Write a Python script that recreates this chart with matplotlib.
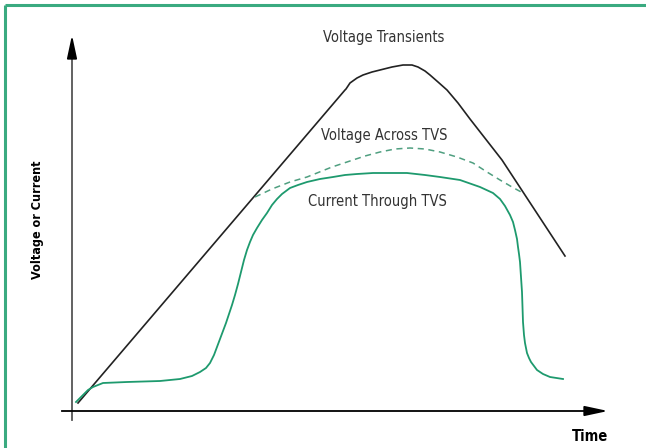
import matplotlib
matplotlib.use("Agg")
import matplotlib.pyplot as plt

# Data in chart units: time measured from the y-axis, value measured from the x-axis
vt_time = [6, 273, 274, 278, 285, 291, 300, 308, 320, 331, 340, 346, 353, 358, 366, 375, 386, 398, 430, 493]
vt_val = [8, 321, 322, 328, 333, 336, 339, 341, 344, 346, 346, 344, 340, 336, 329, 321, 308, 292, 251, 155]

va_time = [183, 200, 218, 235, 245, 260, 275, 293, 308, 323, 338, 353, 368, 385, 401, 415, 428, 440, 451]
va_val = [214, 222, 229, 234, 238, 244, 249, 255, 259, 262, 263, 262, 259, 254, 248, 239, 231, 224, 218]

cur_time = [4, 10, 16, 21, 31, 55, 88, 108, 120, 128, 134, 138, 142, 145, 148, 151, 154, 157,
            160, 163, 166, 169, 172, 175, 178, 181, 185, 190, 195, 200, 205, 210, 218, 226,
            235, 248, 261, 273, 285, 301, 318, 335, 353, 368, 388, 408, 421, 428, 433, 438,
            441, 443, 445, 446, 447, 448, 449, 450, 450.5, 451, 452, 453, 455, 457, 459, 462,
            465, 471, 478, 491]
cur_val = [9, 15, 21, 24, 28, 29, 30, 32, 35, 39, 43, 48, 56, 64, 72, 80, 88, 97,
           106, 116, 127, 139, 151, 161, 169, 176, 183, 191, 198, 206, 212, 217, 223, 226,
           229, 232, 234, 236, 237, 238, 238, 238, 236, 234, 231, 224, 218, 212, 205, 196,
           189, 181, 172, 164, 157, 149, 134, 119, 104, 89, 76, 68, 58, 53, 49, 45,
           41, 37, 34, 32]

labels = ["Voltage Transients", "Voltage Across TVS", "Current Through TVS"]
label_time = [312, 312, 305]
label_val = [374, 276, 210]

GREEN = "#1e9a6e"
DASH = "#4f9f80"
FRAME = "#3aaa80"

fig = plt.figure(figsize=(6.46, 4.48), dpi=100)
ax = fig.add_axes([0, 0, 1, 1])
ax.set_xlim(-72, 574)
ax.set_ylim(-37, 411)
ax.axis("off")

font = ["DejaVu Sans"]

# frame (top and left border)
ax.plot([-67, 574], [406, 406], color=FRAME, lw=2.2, solid_capstyle="butt")
ax.plot([-67, -67], [406, -37], color=FRAME, lw=2.2, solid_capstyle="butt")

# axes with arrows
ax.plot([0, 0], [-9, 360], color="#555555", lw=1.3)
ax.annotate("", xy=(0, 376), xytext=(0, 355),
            arrowprops=dict(arrowstyle="-|>,head_length=1.4,head_width=0.3",
                            color="black", lw=1.3, shrinkA=0, shrinkB=0))
ax.plot([-10, 520], [0, 0], color="black", lw=1.3)
ax.annotate("", xy=(536, 0), xytext=(515, 0),
            arrowprops=dict(arrowstyle="-|>,head_length=1.4,head_width=0.3",
                            color="black", lw=1.3, shrinkA=0, shrinkB=0))

# curves
ax.plot(vt_time, vt_val, color="#222222", lw=1.2, solid_joinstyle="round")
ax.plot(va_time, va_val, color=DASH, lw=1.1, ls=(0, (4, 3)))
ax.plot(cur_time, cur_val, color=GREEN, lw=1.3, solid_joinstyle="round")

for t, x, y in zip(labels, label_time, label_val):
    ax.text(x, y, t, ha="center", va="center", fontsize=10.5, family=font,
            fontstretch="condensed", color="#333333")

ax.text(-35, 191, "Voltage or Current", rotation=90, ha="center", va="center",
        fontsize=9, fontweight="bold", family=font, fontstretch="condensed")
ax.text(518, -25, "Time", ha="center", va="center",
        fontsize=10.5, fontweight="bold", family=font, fontstretch="condensed")

fig.savefig("out.png", dpi=100)
